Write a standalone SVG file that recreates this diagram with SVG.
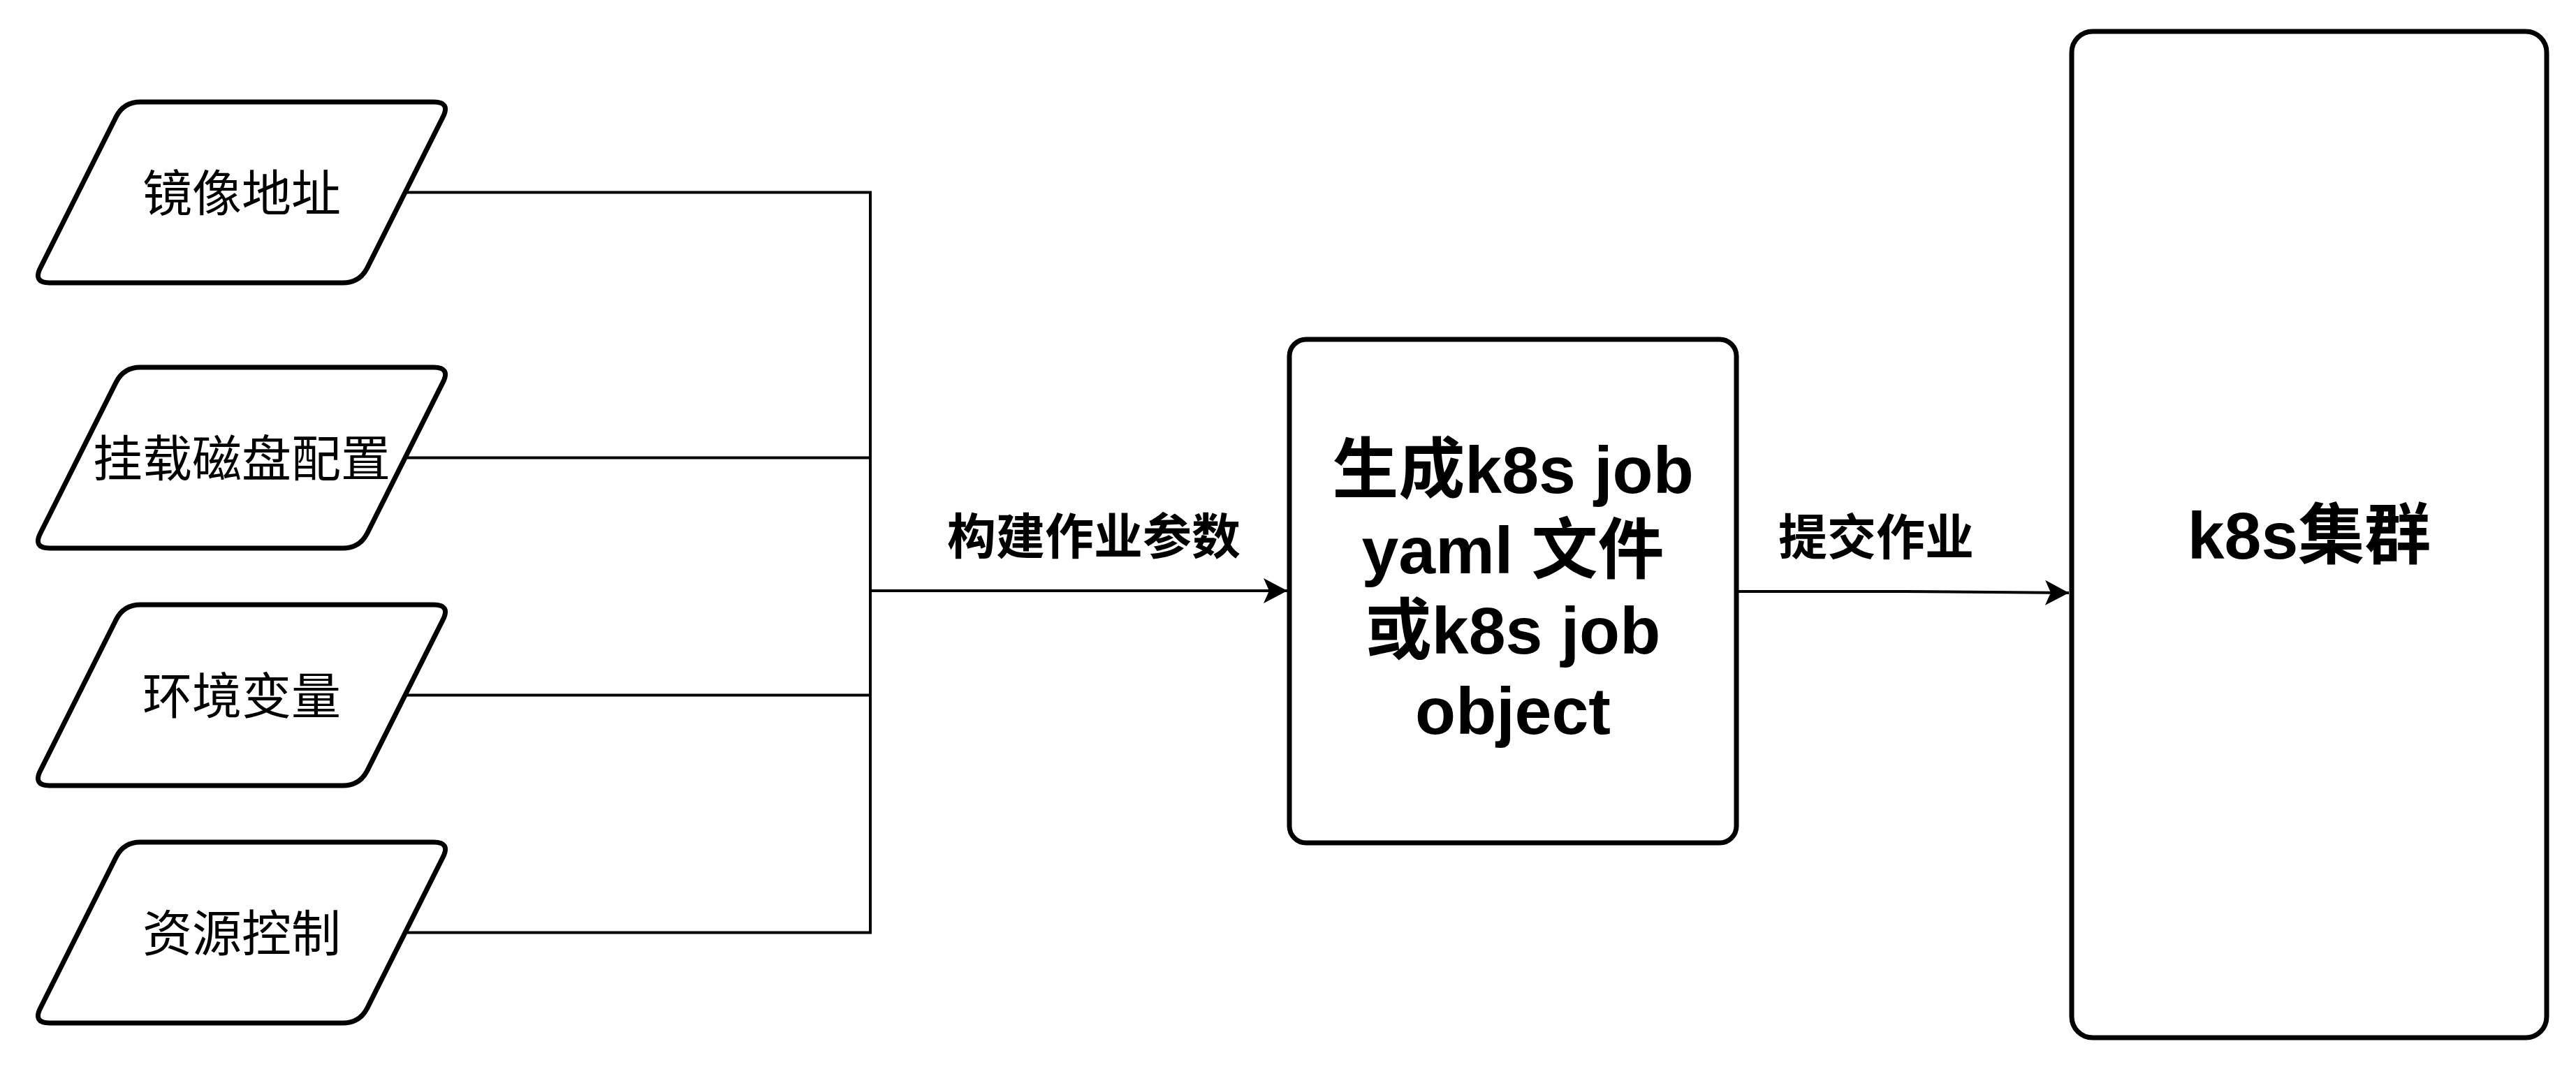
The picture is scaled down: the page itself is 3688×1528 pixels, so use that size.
<svg xmlns="http://www.w3.org/2000/svg" width="3688" height="1528" viewBox="0 0 3688 1528">
<defs>
<style>
.shape{fill:#fff;stroke:#000;stroke-width:7;stroke-linejoin:round}
.conn{fill:none;stroke:#000;stroke-width:4}
.t{font-family:'Liberation Sans','Noto Sans CJK SC',sans-serif;text-anchor:middle;fill:#000}
.p{font-size:71px}
.lb{font-size:70px;font-weight:bold}
.big{font-size:95px;font-weight:bold}
</style>
<path id="para" d="M201,146 L621,146 Q645,146 634.2,167.4 L525.8,383.6 Q515,405 491,405 L71,405 Q47,405 57.8,383.6 L166.2,167.4 Q177,146 201,146 Z"/>
<marker id="arr" markerUnits="userSpaceOnUse" markerWidth="40" markerHeight="40" viewBox="-36 -20 40 40" refX="0" refY="0" orient="auto" overflow="visible">
<path d="M0,0 L-34,-18 L-26,0 L-34,18 Z" fill="#000"/>
</marker>
</defs>
<rect width="3688" height="1528" fill="#fff"/>
<g id="connectors">
<path class="conn" d="M580,275.5 H1246 M580,655.5 H1246 M580,995.5 H1246 M580,1335.5 H1246 M1246,273.5 V1337.5"/>
<path class="conn" d="M1246,846 H1843" marker-end="url(#arr)"/>
<path class="conn" d="M2486,847 L2726,847 L2962,849" marker-end="url(#arr)"/>
<text class="t lb" x="1566" y="794">构建作业参数</text>
<text class="t lb" x="2686" y="795">提交作业</text>
</g>
<g id="node-image">
<use href="#para" class="shape"/>
<text class="t p" x="346" y="302">镜像地址</text>
</g>
<g id="node-disk">
<use href="#para" class="shape" y="380"/>
<text class="t p" x="346" y="682">挂载磁盘配置</text>
</g>
<g id="node-env">
<use href="#para" class="shape" y="720"/>
<text class="t p" x="346" y="1022">环境变量</text>
</g>
<g id="node-res">
<use href="#para" class="shape" y="1060"/>
<text class="t p" x="346" y="1362">资源控制</text>
</g>
<g id="node-gen">
<rect class="shape" x="1846" y="486" width="640" height="721" rx="24" ry="24"/>
<text class="t big" x="2166"><tspan x="2166" y="706">生成k8s job</tspan><tspan x="2166" y="821">yaml 文件</tspan><tspan x="2166" y="936">或k8s job</tspan><tspan x="2166" y="1051">object</tspan></text>
</g>
<g id="node-k8s">
<rect class="shape" x="2966" y="45" width="680" height="1441" rx="30" ry="30"/>
<text class="t big" x="3306" y="800">k8s集群</text>
</g>
</svg>
